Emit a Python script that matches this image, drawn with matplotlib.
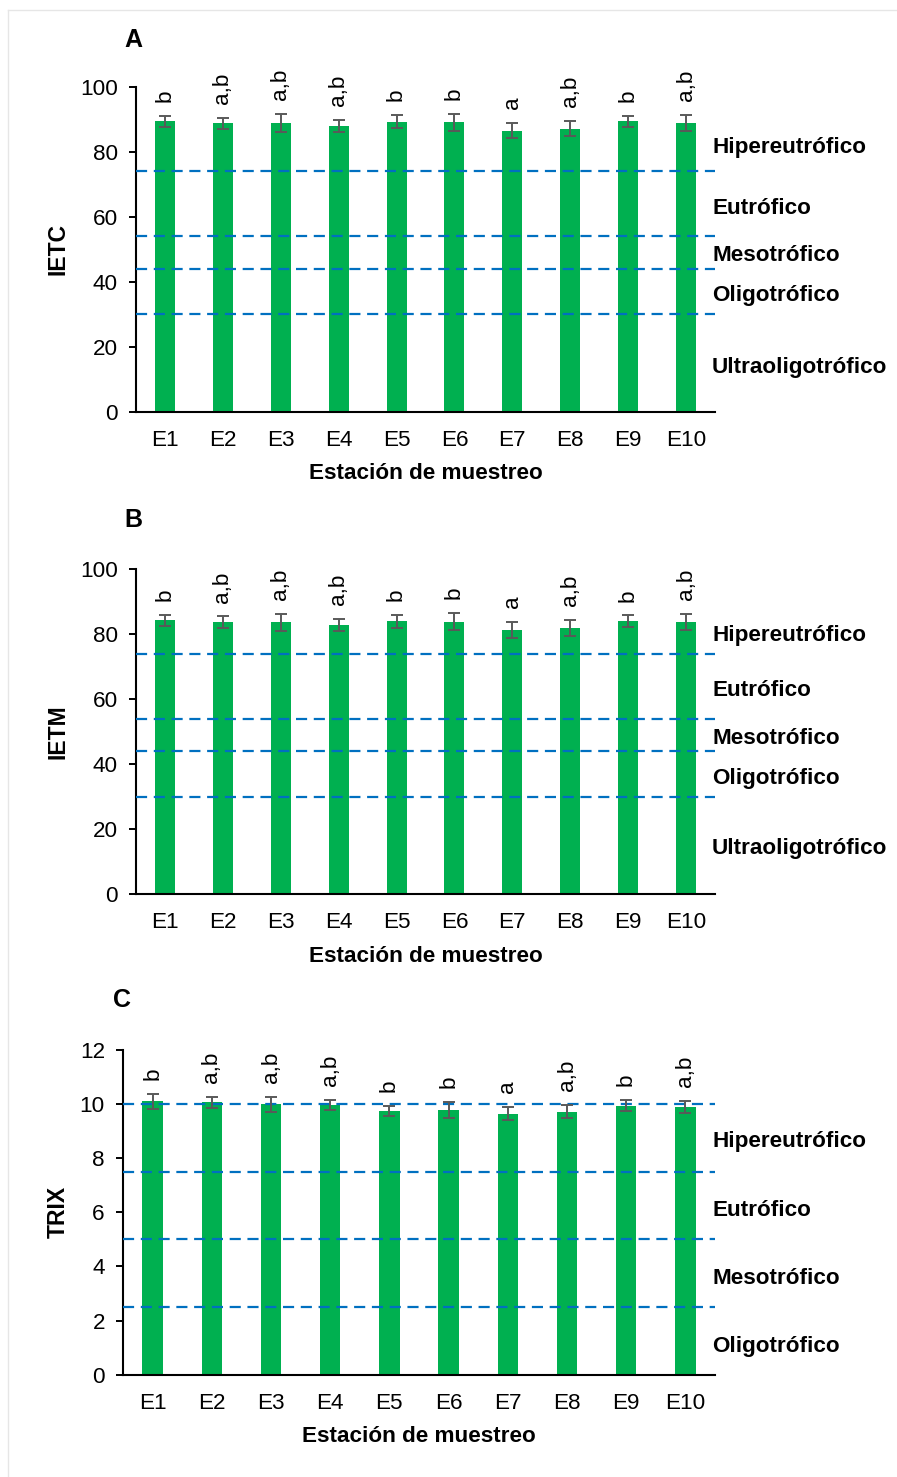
import matplotlib
matplotlib.use("Agg")
import matplotlib.pyplot as plt
from matplotlib.lines import Line2D

plt.rcParams['font.family'] = ['Liberation Sans', 'DejaVu Sans']

W, H = 897, 1477

stations = ["E1", "E2", "E3", "E4", "E5", "E6", "E7", "E8", "E9", "E10"]
groups = ["b", "a,b", "a,b", "a,b", "b", "b", "a", "a,b", "b", "a,b"]

ietc = [89.4, 88.9, 88.9, 87.9, 89.3, 89.1, 86.6, 87.2, 89.4, 88.9]
ietc_err = [1.6, 1.7, 2.7, 1.9, 2.0, 2.7, 2.4, 2.3, 1.7, 2.4]

ietm = [84.2, 83.6, 83.6, 82.7, 84.0, 83.8, 81.2, 81.9, 84.0, 83.6]
ietm_err = [1.6, 1.8, 2.6, 1.9, 2.0, 2.6, 2.4, 2.4, 1.7, 2.5]

trix = [10.10, 10.06, 9.99, 9.96, 9.74, 9.79, 9.65, 9.72, 9.94, 9.90]
trix_err = [0.29, 0.22, 0.27, 0.19, 0.18, 0.29, 0.24, 0.24, 0.21, 0.22]

# limites entre estados troficos
ietc_limits = [30, 44, 54, 74]
trix_limits = [2.5, 5, 7.5, 10]
zones5 = ["Hipereutrófico", "Eutrófico", "Mesotrófico", "Oligotrófico", "Ultraoligotrófico"]
zones4 = ["Hipereutrófico", "Eutrófico", "Mesotrófico", "Oligotrófico"]

GREEN = "#00B050"
BLUE = "#0070C0"
FS = 16.2


def px_axes(fig, left, right, top, bottom):
    return fig.add_axes([left / W, 1 - bottom / H, (right - left) / W, (bottom - top) / H])


def panel(fig, box, vals, errs, limits, zones, zone_y, ymax, ystep, ylabel, letter, letter_xy):
    ax = px_axes(fig, *box)
    x = list(range(len(stations)))
    ax.bar(x, vals, width=0.345, color=GREEN, zorder=2)
    for lim in limits:
        ax.axhline(lim, color=BLUE, lw=1.6, dashes=(5, 3), zorder=3)
    ax.errorbar(x, vals, yerr=errs, fmt="none", ecolor="#595959", elinewidth=1.4,
                capsize=4.3, capthick=1.4, zorder=4)
    for xi, v, e, g in zip(x, vals, errs, groups):
        ax.annotate(g, (xi, v + e), xytext=(0, 10), textcoords="offset points",
                    rotation=90, ha="center", va="bottom", fontsize=FS)
    for name, yz in zip(zones, zone_y):
        ax.text(0.995, yz, name, transform=ax.get_yaxis_transform(), ha="left",
                va="center", fontsize=16.2, fontweight="bold", clip_on=False)
    ax.set_xlim(-0.5, len(stations) - 0.5)
    ax.set_ylim(0, ymax)
    ax.set_yticks([ystep * i for i in range(int(ymax / ystep) + 1)])
    ax.set_xticks(x)
    ax.set_xticklabels(stations)
    ax.tick_params(axis="y", length=5, width=1.4, labelsize=FS, pad=8)
    ax.tick_params(axis="x", length=0, labelsize=FS, pad=13)
    for s in ["top", "right"]:
        ax.spines[s].set_visible(False)
    for s in ["left", "bottom"]:
        ax.spines[s].set_linewidth(1.5)
    ax.set_xlabel("Estación de muestreo", fontsize=16.2, fontweight="bold", labelpad=9)
    fig.text(58 / W, 1 - ((box[2] + box[3]) / 2) / H, ylabel, rotation=90, ha="center",
             va="center", fontsize=16.5, fontweight="bold")
    fig.text(letter_xy[0] / W, 1 - letter_xy[1] / H, letter, ha="center", va="center",
             fontsize=18, fontweight="bold")
    return ax


fig = plt.figure(figsize=(W / 100, H / 100), dpi=100)

panel(fig, (136, 715, 87, 411.7), ietc, ietc_err, ietc_limits, zones5,
      [81.3, 62.5, 48.0, 35.7, 13.5], 100, 20, "IETC", "A", (133, 40))
panel(fig, (136, 715, 569, 894), ietm, ietm_err, ietc_limits, zones5,
      [79.4, 62.5, 48.0, 35.4, 13.9], 100, 20, "IETM", "B", (133, 520))
panel(fig, (123, 715, 1050, 1374.7), trix, trix_err, trix_limits, zones4,
      [8.6, 6.05, 3.57, 1.03], 12, 2, "TRIX", "C", (122, 1000))

# marco exterior
fig.add_artist(Line2D([8 / W, 8 / W], [0, 1 - 10 / H], transform=fig.transFigure,
                      color="#E6E6E6", lw=1))
fig.add_artist(Line2D([8 / W, 1], [1 - 10 / H, 1 - 10 / H], transform=fig.transFigure,
                      color="#E6E6E6", lw=1))

fig.savefig("out.png", dpi=100)
